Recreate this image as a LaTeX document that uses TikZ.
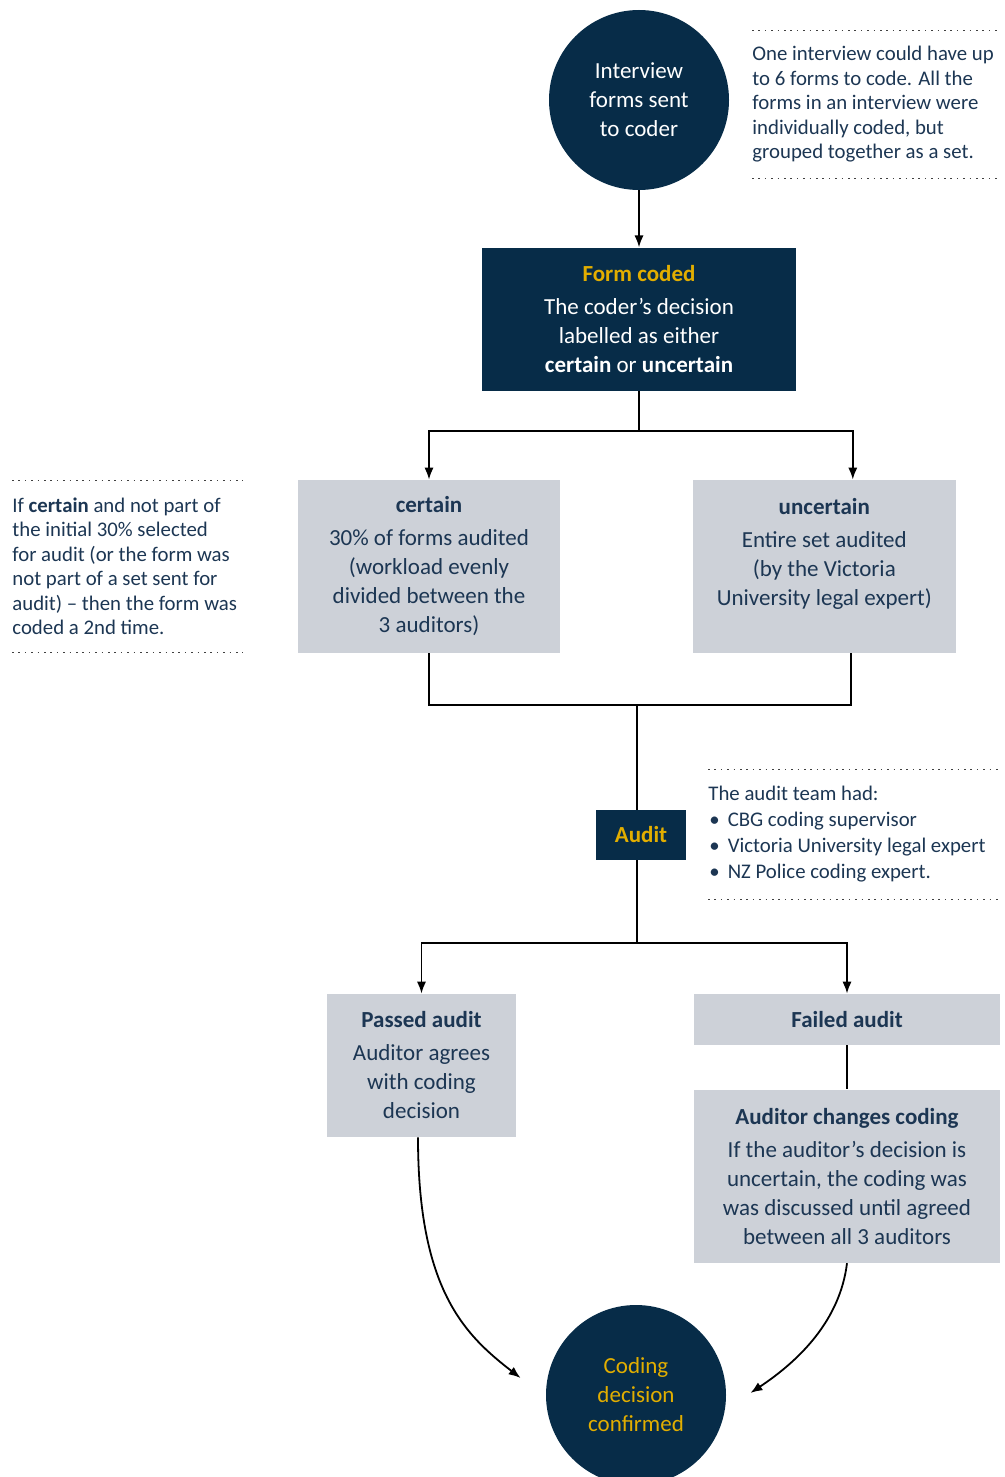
\documentclass[tikz,border=0pt]{standalone}
\usepackage{fontspec}
\setmainfont{Carlito}
\usepackage{tikz}
\usetikzlibrary{positioning,arrows.meta}

\definecolor{navy}{HTML}{072C48}
\definecolor{gold}{HTML}{E2AE00}
\definecolor{boxgray}{HTML}{CDD1D8}
\definecolor{inknavy}{HTML}{1C3653}

\tikzset{
  bodyfont/.style={font=\fontsize{11.5}{14.5}\selectfont},
  darkcirc/.style={circle, fill=navy, minimum size=90pt, inner sep=0pt, align=center, bodyfont},
  darkbox/.style={rectangle, fill=navy, text=white, align=center, inner sep=0pt, bodyfont},
  graybox/.style={rectangle, fill=boxgray, text=inknavy, align=center, inner sep=0pt, bodyfont},
  note/.style={anchor=west, align=left, inner sep=0pt, text=inknavy, font=\fontsize{10.4}{12.25}\selectfont},
  notedots/.style={line width=0.8pt, dash pattern=on 0.8pt off 2.4pt, black!75},
  link/.style={line width=0.9pt, black},
  arrow/.style={link, -{Latex[length=6pt,width=4.6pt]}},
}

\begin{document}
\begin{tikzpicture}[x=0.5pt, y=-0.5pt]
  \useasboundingbox (0,0) rectangle (1005,1477);

  % coder side
  \node (sent) [darkcirc, text=white] at (639,100) {Interview\\forms sent\\to coder};
  \node (coded) [darkbox, minimum width=157pt, minimum height=71.5pt, below=28.5pt of sent]
    {{\color{gold}\bfseries Form coded}\\[2pt]The coder’s decision\\labelled as either\\\textbf{certain} or \textbf{uncertain}};
  \node (setnote) [note, minimum height=73.5pt] at (752,104.5)
    {One interview could have up\\to 6 forms to code. All the\\forms in an interview were\\individually coded, but\\grouped together as a set.};
  \draw[notedots] (setnote.north west) -- ++(248,0);
  \draw[notedots] (setnote.south west) -- ++(248,0);
  \draw[arrow] (sent) -- (coded);

  % certain / uncertain
  \node (certain) [graybox, minimum width=131pt, minimum height=86.5pt] at (429,566.5)
    {\textbf{certain}\\[2pt]30\% of forms audited\\(workload evenly\\divided between the\\3 auditors)};
  \node (uncertain) [graybox, minimum width=131.5pt, minimum height=86.5pt, right=66pt of certain]
    {\textbf{uncertain}\\[2pt]Entire set audited\\(by the Victoria\\University legal expert)\\~};
  \node (secondnote) [note, minimum height=85.5pt] at (12,566.5)
    {If \textbf{certain} and not part of\\the initial 30\% selected\\for audit (or the form was\\not part of a set sent for\\audit) – then the form was\\coded a 2nd time.};
  \draw[notedots] (secondnote.north west) -- ++(231,0);
  \draw[notedots] (secondnote.south west) -- ++(231,0);
  \draw[arrow] (coded.south) -- ++(0,40) -| (certain.north);
  \draw[arrow] (coded.south) -- ++(0,40) -| ([xshift=14.25pt]uncertain.north);

  % audit
  \coordinate (join) at (637,705);
  \coordinate (split) at (637,943);
  \node (audit) [darkbox, minimum width=45pt, minimum height=25pt] at (641,835)
    {\color{gold}\bfseries Audit};
  \node (teamnote) [note, minimum height=64.5pt, font=\fontsize{10.4}{13}\selectfont] at (708,834.5)
    {The audit team had:\\
     \hspace*{0.5pt}\textbullet\hspace{4pt}CBG coding supervisor\\
     \hspace*{0.5pt}\textbullet\hspace{4pt}Victoria University legal expert\\
     \hspace*{0.5pt}\textbullet\hspace{4pt}NZ Police coding expert.};
  \draw[notedots] (teamnote.north west) -- ++(292,0);
  \draw[notedots] (teamnote.south west) -- ++(292,0);
  \draw[link] (certain.south) |- (join) -| ([xshift=13.25pt]uncertain.south);
  \draw[link] (join) -- (join |- audit.north);
  \draw[link] (join |- audit.south) -- (split);

  % outcome
  \node (passed) [graybox, minimum width=94.5pt, minimum height=71.5pt] at (421.5,1065.5)
    {\textbf{Passed audit}\\[2pt]Auditor agrees\\with coding\\decision};
  \node (failed) [graybox, minimum width=153pt, minimum height=25.5pt] at (847,1019.5)
    {\textbf{Failed audit}};
  \node (changes) [graybox, minimum width=153pt, minimum height=86.5pt, below=22pt of failed]
    {\textbf{Auditor changes coding}\\[2pt]If the auditor’s decision is\\uncertain, the coding was\\was discussed until agreed\\between all 3 auditors};
  \node (confirmed) [darkcirc, text=gold] at (636,1395) {Coding\\decision\\confirmed};
  \draw[arrow] (split) -| (passed.north);
  \draw[arrow] (split) -| (failed.north);
  \draw[link] (failed) -- (changes);
  \draw[arrow] ([xshift=-1.75pt]passed.south) .. controls (418,1290) and (465,1335) .. ([xshift=-12.5pt,yshift=8.5pt]confirmed.west);
  \draw[arrow] (changes.south) .. controls (840,1320) and (800,1360) .. ([xshift=12pt,yshift=1pt]confirmed.east);
\end{tikzpicture}
\end{document}
